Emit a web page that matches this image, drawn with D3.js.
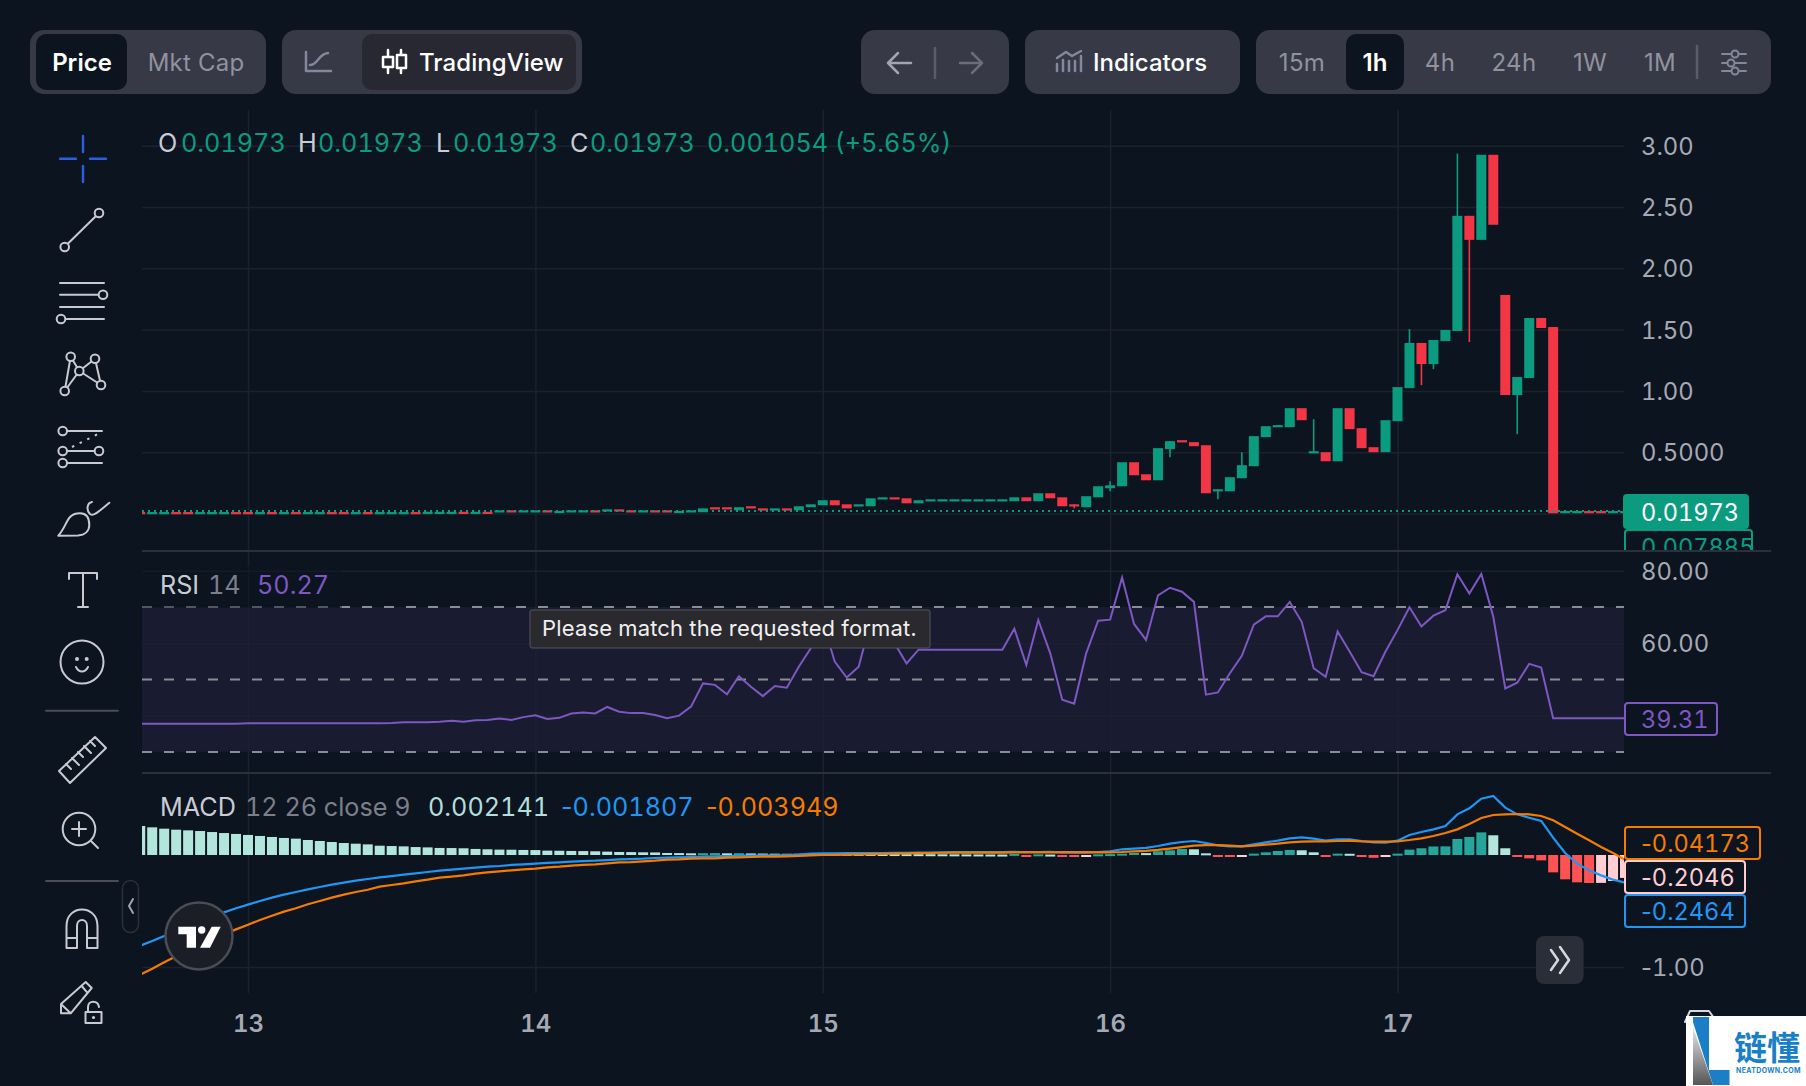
<!DOCTYPE html>
<html>
<head>
<meta charset="utf-8">
<script src="https://cdn.jsdelivr.net/npm/d3@7/dist/d3.min.js"></script>
<style>
  html, body { margin: 0; padding: 0; background: #0c1420; overflow: hidden; }
  text { font-family: Inter, "Noto Sans", sans-serif; font-variant-numeric: tabular-nums; }
  .plain { font-variant-numeric: normal; }
</style>
</head>
<body>
<div id="chart"></div>
<script>
// hours are counted from day 13 00:00, first candle is index 0 = hour -9
const firstHour = -9;
const dayTicks = [0, 24, 48, 72, 96];
const dayLabels = ["13", "14", "15", "16", "17"];

const opens = [
  .012,0,0,.012,.012,0,0,0,.012,
  .012,0,.012,0,.012,0,0,.012,.012,0,
  .012,0,0,0,.012,.002,.002,.002,.014,.002,
  .014,.010,.026,.010,.010,.026,.006,.010,.010,.026,
  .018,.034,.026,.010,.026,.026,.004,.010,.010,.051,
  .051,.026,.059,.042,.026,.042,.026,.051,.067,.108,
  .075,.059,.059,.116,.132,.124,.083,.100,.100,.100,
  .100,.100,.100,.100,.100,.132,.100,.165,.132,.075,
  .051,.132,.206,.222,.418,.320,.271,.525,.598,.582,
  .557,.184,.181,.288,.386,.623,.707,.704,.859,.495,
  .500,.426,.859,.696,.541,.500,.753,1.023,1.391,1.219,
  1.407,1.489,2.428,2.232,2.926,1.783,.966,1.105,1.595,1.521,
  .014,.014,.020,.020,.014,.014
];
const closes = [
  0,.012,.012,0,0,.012,.012,.012,0,
  0,.012,0,.012,0,.012,.012,0,0,.012,
  0,.012,.012,.012,0,.014,.014,.014,.002,.014,
  .002,.026,.010,.026,.026,.010,.021,.026,.026,.010,
  .034,.018,.010,.026,.010,.010,.021,.026,.042,.034,
  .034,.051,.042,.026,.042,.026,.059,.075,.108,.067,
  .042,.075,.124,.132,.116,.083,.108,.116,.116,.116,
  .116,.116,.116,.116,.132,.100,.165,.124,.059,.059,
  .141,.222,.230,.418,.312,.271,.533,.590,.582,.549,
  .165,.198,.296,.394,.631,.712,.721,.859,.761,.508,
  .426,.859,.688,.533,.500,.761,1.031,1.391,1.219,1.415,
  1.497,2.428,2.232,2.926,2.355,.966,1.113,1.595,1.513,.002,
  .020,.020,.014,.014,.020,.0197
];
// only the candles with a wick that shows
const wickHours = [69, 72, 77, 81, 83, 89, 97, 98, 99, 101, 102, 106];
const wickHighs = [.075, .263, .590, .198, .500, .770, 1.505, 1.391, 1.415, 2.935, 2.428, 1.113];
const wickLows = [.042, .181, .459, .116, .288, .495, 1.023, 1.047, 1.178, 1.489, 1.399, .647];

const rsiValues = [
  37.8,37.8,37.8,37.8,37.8,37.8,37.8,37.8,
  37.8,37.9,37.9,37.9,37.9,37.9,37.9,37.9,37.9,37.9,
  37.9,37.9,37.9,38.0,38.2,38.2,38.2,38.3,38.6,38.3,38.7,
  38.8,39.2,38.8,39.6,40.1,39.1,39.4,40.6,40.9,40.6,
  42.4,41.1,40.7,40.7,40.2,39.3,40.0,42.5,48.9,48.5,
  45.9,50.9,48.0,45.4,48.2,47.7,53.5,58.6,66.0,54.9,
  50.5,53.5,66.0,68.0,60.0,54.4,58.2,58.2,58.2,58.2,
  58.2,58.2,58.2,58.2,64.0,54.0,66.4,57.2,44.4,43.3,
  57.2,66.2,66.5,78.1,65.3,60.9,73.2,75.3,74.2,71.4,
  45.8,46.4,51.7,56.5,65.1,67.4,67.4,71.4,65.9,53.1,
  50.7,63.2,57.7,52.0,50.9,57.7,63.6,69.9,64.6,67.6,
  69.1,79.0,73.7,79.1,67.3,47.5,49.1,54.3,53.3,39.31,
  39.31,39.31,39.31,39.31,39.31,39.31,39.31
];

const macdValues = [
  -.810,-.768,-.723,-.679,-.634,-.592,-.551,-.512,-.476,
  -.443,-.411,-.381,-.354,-.330,-.307,-.286,-.265,-.247,-.229,
  -.214,-.199,-.188,-.176,-.164,-.152,-.140,-.131,-.122,-.113,
  -.104,-.098,-.089,-.083,-.077,-.071,-.065,-.060,-.054,-.051,
  -.045,-.039,-.036,-.033,-.027,-.024,-.021,-.018,-.015,-.012,
  -.009,-.006,-.006,-.003,-.003,0,.003,.012,.014,.015,
  .016,.018,.018,.018,.020,.020,.022,.022,.024,.026,
  .026,.026,.026,.026,.028,.024,.027,.028,.022,.020,
  .021,.027,.033,.051,.057,.063,.080,.101,.116,.125,
  .107,.086,.077,.077,.095,.113,.128,.149,.158,.146,
  .128,.140,.140,.125,.113,.110,.128,.179,.205,.229,
  .259,.363,.417,.503,.527,.423,.363,.333,.304,.155,
  .018,-.077,-.137,-.182,-.220,-.246
];
const signalValues = [
  -1.068,-1.015,-.958,-.905,-.854,-.807,-.756,-.708,-.664,
  -.622,-.580,-.542,-.506,-.476,-.440,-.411,-.381,-.354,-.330,
  -.310,-.283,-.268,-.253,-.235,-.220,-.202,-.193,-.182,-.167,
  -.155,-.146,-.137,-.128,-.122,-.110,-.104,-.095,-.089,-.083,
  -.074,-.065,-.063,-.057,-.051,-.042,-.039,-.033,-.030,-.030,
  -.024,-.021,-.018,-.015,-.015,-.012,-.009,-.004,0,.002,
  .004,.006,.008,.010,.012,.014,.016,.018,.020,.022,
  .022,.022,.022,.022,.024,.025,.024,.024,.025,.026,
  .025,.024,.024,.027,.033,.036,.045,.057,.071,.083,
  .089,.089,.083,.077,.083,.092,.101,.113,.119,.122,
  .122,.125,.128,.122,.119,.119,.122,.134,.149,.170,
  .196,.229,.277,.330,.357,.363,.366,.363,.348,.310,
  .250,.190,.131,.071,.018,-.042
];
const histValues = [
  .259,.247,.235,.226,.220,.214,.205,.196,.188,
  .179,.170,.161,.152,.146,.134,.125,.116,.107,.101,
  .095,.083,.080,.077,.071,.068,.063,.062,.060,.054,
  .051,.048,.047,.045,.044,.039,.038,.036,.035,.033,
  .030,.027,.026,.024,.023,.018,.017,.015,.016,.017,
  .015,.016,.014,.013,.012,.011,.013,.012,.0115,.011,
  .0105,.010,.0095,.009,.0085,.008,.0075,.007,.0065,.006,
  .0055,.005,.0045,.004,.010,-.006,.006,.004,-.008,-.012,
  -.008,.006,.008,.012,.018,.017,.033,.042,.054,.051,
  .015,-.012,-.014,-.012,.012,.024,.036,.045,.042,.024,
  -.006,.012,.011,-.014,-.025,-.012,.012,.048,.060,.076,
  .077,.143,.161,.202,.176,.060,-.012,-.030,-.048,-.155,
  -.217,-.244,-.250,-.249,-.232,-.2046
];

const priceTicks = [3, 2.5, 2, 1.5, 1, 0.5];
const priceLabels = ["3.00", "2.50", "2.00", "1.50", "1.00", "0.5000"];
const rsiTicks = [80, 60];
const rsiGrid = [80, 60, 40];
const rsiBands = [70, 50, 30];
const macdTicks = [-1];
const lastPrice = 0.01973;

const width = 1806, height = 1086;
const left = 142, right = 1624;
const bg = "#0c1420", up = "#0b9c80", down = "#f23645", gridCol = "#1b222e";
const axisCol = "#a6a9b3", purple = "#7e57c2", blue = "#2196f3", orange = "#f57c00";

const svg = d3.select("#chart").append("svg").attr("width", width).attr("height", height)
  .style("display", "block");
svg.append("rect").attr("width", width).attr("height", height).attr("fill", bg);

const x = d3.scaleLinear().domain([0, 96]).range([248, 1397.5]);
const yPrice = d3.scaleLinear().domain([0, 3]).range([513.5, 145.7]);
const yRsi = d3.scaleLinear().domain([30, 80]).range([751.9, 570.7]);
const yMacd = d3.scaleLinear().domain([-1, 0]).range([967, 855]);

const hourOf = i => firstHour + i;

// tabular minus sign is too wide, so it goes in its own tspan
function setLabel(sel, str) {
  sel.text(null);
  if (str[0] === "-") {
    sel.append("tspan").attr("class", "plain").text("-");
    sel.append("tspan").text(str.slice(1));
  } else {
    sel.text(str);
  }
}

const defs = svg.append("defs");
function clip(id, y0, y1) {
  defs.append("clipPath").attr("id", id).append("rect")
    .attr("x", left).attr("y", y0).attr("width", right - left).attr("height", y1 - y0);
}
clip("clipPrice", 110, 550);
clip("clipRsi", 552, 772);
clip("clipMacd", 774, 993);
defs.append("clipPath").attr("id", "clipLabel").append("rect")
  .attr("x", right - 2).attr("y", 110).attr("width", 180).attr("height", 440);

// rsi band goes under the grid
svg.append("rect").attr("x", left).attr("width", right - left)
  .attr("y", yRsi(70)).attr("height", yRsi(30) - yRsi(70)).attr("fill", "#191b30");

// vertical grid
const vGrid = svg.append("g").attr("transform", "translate(0,110)")
  .call(d3.axisBottom(x).tickValues(dayTicks).tickSize(883).tickFormat(""));
vGrid.select(".domain").remove();
vGrid.selectAll("line").attr("stroke", gridCol).attr("stroke-width", 1.5);

// horizontal grid
function hGrid(scale, ticks) {
  const g = svg.append("g").attr("transform", `translate(${left},0)`)
    .call(d3.axisRight(scale).tickValues(ticks).tickSize(right - left).tickFormat(""));
  g.select(".domain").remove();
  g.selectAll("line").attr("stroke", gridCol).attr("stroke-width", 1.5);
}
hGrid(yPrice, priceTicks.concat([0]));
hGrid(yRsi, rsiGrid);
hGrid(yMacd, macdTicks);

// pane dividers
[551, 773].forEach(y => {
  svg.append("line").attr("x1", left).attr("x2", 1771).attr("y1", y).attr("y2", y)
    .attr("stroke", "#2a303c").attr("stroke-width", 2);
});

// candles
const candleG = svg.append("g").attr("clip-path", "url(#clipPrice)");
const isUp = i => closes[i] >= opens[i];
candleG.selectAll(".wick").data(wickHours).enter().append("line")
  .attr("x1", d => x(d)).attr("x2", d => x(d))
  .attr("y1", (d, i) => yPrice(wickHighs[i])).attr("y2", (d, i) => yPrice(wickLows[i]))
  .attr("stroke", d => isUp(d - firstHour) ? up : down).attr("stroke-width", 1.6);
candleG.selectAll(".body").data(opens).enter().append("rect")
  .attr("x", (d, i) => x(hourOf(i)) - 5)
  .attr("width", 10)
  .attr("y", (d, i) => yPrice(Math.max(d, closes[i])))
  .attr("height", (d, i) => Math.max(2.2, Math.abs(yPrice(d) - yPrice(closes[i]))))
  .attr("fill", (d, i) => isUp(i) ? up : down);
candleG.append("line").attr("x1", left).attr("x2", right)
  .attr("y1", yPrice(lastPrice)).attr("y2", yPrice(lastPrice))
  .attr("stroke", up).attr("stroke-width", 2).attr("stroke-dasharray", "2 4");

// rsi
rsiBands.forEach(v => {
  svg.append("line").attr("x1", left).attr("x2", right).attr("y1", yRsi(v)).attr("y2", yRsi(v))
    .attr("stroke", "#8b8d96").attr("stroke-width", 2).attr("stroke-dasharray", "10 12");
});
const rsiLine = d3.line().x((d, i) => x(hourOf(i))).y(d => yRsi(d));
svg.append("path").datum(rsiValues).attr("clip-path", "url(#clipRsi)")
  .attr("d", rsiLine).attr("fill", "none").attr("stroke", purple).attr("stroke-width", 2);

// macd
const macdG = svg.append("g").attr("clip-path", "url(#clipMacd)");
function histColor(i) {
  const v = histValues[i], p = i > 0 ? histValues[i - 1] : v + 1;
  if (v >= 0) return v > p ? "#26a69a" : "#b2e6dd";
  return v > p ? "#ffcdd2" : "#ff5252";
}
macdG.selectAll(".hist").data(histValues).enter().append("rect")
  .attr("x", (d, i) => x(hourOf(i)) - 5)
  .attr("width", 10)
  .attr("y", d => d >= 0 ? yMacd(d) : yMacd(0))
  .attr("height", d => Math.max(2, Math.abs(yMacd(d) - yMacd(0))))
  .attr("fill", (d, i) => histColor(i));
const macdLine = d3.line().x((d, i) => x(hourOf(i))).y(d => yMacd(d));
macdG.append("path").datum(macdValues).attr("d", macdLine)
  .attr("fill", "none").attr("stroke", blue).attr("stroke-width", 2.2);
macdG.append("path").datum(signalValues).attr("d", macdLine)
  .attr("fill", "none").attr("stroke", orange).attr("stroke-width", 2.2);

// axes
function rightAxis(scale, ticks, fmt) {
  const g = svg.append("g").attr("transform", `translate(${right},1)`)
    .call(d3.axisRight(scale).tickValues(ticks).tickSize(0).tickPadding(17).tickFormat(fmt));
  g.select(".domain").remove();
  g.selectAll("text").attr("fill", axisCol).attr("font-size", 23.8)
    .each(function () { const s = d3.select(this); setLabel(s, s.text()); });
}
rightAxis(yPrice, priceTicks, (d, i) => priceLabels[i]);
rightAxis(yRsi, rsiTicks, d3.format(".2f"));
rightAxis(yMacd, macdTicks, d => d3.format(".2f")(d).replace("\u2212", "-"));

const xAxis = svg.append("g").attr("transform", "translate(0,1015)")
  .call(d3.axisBottom(x).tickValues(dayTicks).tickSize(0).tickPadding(0).tickFormat((d, i) => dayLabels[i]));
xAxis.select(".domain").remove();
xAxis.selectAll("text").attr("fill", axisCol).attr("font-size", 24).attr("font-weight", 600);

function txt(str, px, py, col, opts) {
  opts = opts || {};
  const t = svg.append("text").attr("x", px).attr("y", py).attr("fill", col)
    .attr("font-size", opts.size || 24).attr("font-weight", opts.weight || 400)
    .attr("letter-spacing", opts.ls === undefined ? 0 : opts.ls)
    .attr("text-anchor", opts.anchor || "start");
  if (opts.plain) t.attr("class", "plain");
  setLabel(t, str);
  return t;
}

// legends
const lightText = "#c9ccd4", greyText = "#7c7f8a", legendSize = { size: 25.2 };
[["O", 158, lightText], ["0.01973", 181, up], ["H", 298, lightText], ["0.01973", 318, up],
 ["L", 436, lightText], ["0.01973", 453, up], ["C", 570, lightText], ["0.01973", 590, up],
 ["0.001054 (+5.65%)", 707, up]].forEach(d => txt(d[0], d[1], 152, d[2], legendSize));

svg.append("rect").attr("x", left).attr("y", 566).attr("width", 200).attr("height", 42).attr("fill", bg).attr("opacity", 0.45);
txt("RSI", 160, 594, lightText, legendSize);
txt("14", 208, 594, greyText, legendSize);
txt("50.27", 257, 594, purple, legendSize);
txt("MACD", 160, 816, lightText, legendSize);
txt("12 26 close 9", 245, 816, greyText, legendSize);
txt("0.002141", 428, 816, "#b2dfdb", legendSize);
txt("-0.001807", 561, 816, blue, legendSize);
txt("-0.003949", 706, 816, orange, legendSize);

// price labels on the right
function valueBox(bx, by, bw, bh, col, textCol, label, filled, clipId) {
  const g = svg.append("g");
  if (clipId) g.attr("clip-path", `url(#${clipId})`);
  g.append("rect").attr("x", bx).attr("y", by).attr("width", bw).attr("height", bh).attr("rx", 3)
    .attr("fill", filled ? col : bg).attr("stroke", col).attr("stroke-width", 2);
  const t = g.append("text").attr("x", 1641).attr("y", by + bh / 2 + 9).attr("fill", textCol)
    .attr("font-size", 23.6);
  setLabel(t, label);
}
valueBox(1625, 530, 127, 34, up, up, "0.007885", false, "clipLabel");
valueBox(1624, 495, 124, 33, up, "#ffffff", "0.01973", true);
valueBox(1625, 703, 92, 32, purple, purple, "39.31", false);
valueBox(1625, 827, 135, 32, orange, orange, "-0.04173", false);
valueBox(1625, 861, 120, 32, "#ffcdd2", "#ffcdd2", "-0.2046", false);
valueBox(1625, 895, 120, 32, blue, blue, "-0.2464", false);

// tooltip
svg.append("rect").attr("x", 530).attr("y", 610).attr("width", 400).attr("height", 38).attr("rx", 2)
  .attr("fill", "#29292e").attr("stroke", "#55565c");
txt("Please match the requested format.", 542, 636, "#f0f0f2", { size: 22, ls: 0.16 });

// top bar
function pill(px, py, w, h, r, col) {
  svg.append("rect").attr("x", px).attr("y", py).attr("width", w).attr("height", h).attr("rx", r).attr("fill", col);
}
const barCol = "#373947", selCol = "#0c1420", barText = "#90929e";
pill(30, 30, 236, 64, 14, barCol);
pill(36, 34, 91, 56, 10, selCol);
txt("Price", 82, 70.5, "#ffffff", { weight: 600, anchor: "middle", plain: true });
txt("Mkt Cap", 196, 70.5, barText, { anchor: "middle", ls: 0.2, plain: true });
pill(282, 30, 300, 64, 14, barCol);
pill(362, 34, 214, 56, 10, "#282833");
txt("TradingView", 419, 70.5, "#ffffff", { weight: 500, ls: 0.05, plain: true });
pill(861, 30, 148, 64, 14, barCol);
pill(1025, 30, 215, 64, 14, barCol);
txt("Indicators", 1093, 70.5, "#ffffff", { weight: 500, plain: true });
pill(1256, 30, 515, 64, 14, barCol);
pill(1346, 34, 58, 56, 10, selCol);
[["15m", 1302], ["4h", 1440], ["24h", 1514], ["1W", 1590], ["1M", 1660]].forEach(d =>
  txt(d[0], d[1], 70.5, barText, { anchor: "middle", ls: 0.3, plain: true }));
txt("1h", 1375, 70.5, "#ffffff", { weight: 600, anchor: "middle", plain: true });

function icon(d, col, w, fill) {
  svg.append("path").attr("d", d).attr("fill", fill || "none").attr("stroke", col)
    .attr("stroke-width", w || 2).attr("stroke-linecap", "round").attr("stroke-linejoin", "round");
}
function dot(cx, cy, r, col, w) {
  svg.append("circle").attr("cx", cx).attr("cy", cy).attr("r", r).attr("fill", bg).attr("stroke", col).attr("stroke-width", w || 2);
}
icon("M306 52V71H331M310 65C318 65 318 54 328 53", "#85879a", 2.5);
icon("M388 50V57M388 67V73M383 57H393V67H383ZM401 50V55M401 68V73M397 55H406V68H397Z", "#ffffff", 2.5);
icon("M899 63H888M888 63L898 53M888 63L898 73M888 63H911", "#a2a4ae", 2.5);
icon("M935 48V78", "#5a5c69", 2.5);
icon("M960 63H982M982 63L972 53M982 63L972 73", "#6b6d79", 2.5);
icon("M1057 71V64M1063 71V60M1069 71V61M1075 71V61M1081 71V56M1057 58L1066 52L1072 56L1081 51", "#85879a", 2.5);
icon("M1697 46V78", "#5a5c69", 2.5);
icon("M1722 54H1731M1739 54H1746M1722 63H1727M1735 63H1746M1722 71H1731M1739 71H1746", "#85879a", 2);
[[1735, 54], [1731, 63], [1735, 71]].forEach(d => svg.append("circle").attr("cx", d[0]).attr("cy", d[1]).attr("r", 3.5).attr("fill", "none").attr("stroke", "#85879a").attr("stroke-width", 2));

// left tools
const ic = "#c8cad2";
icon("M60 158.7H76M90 158.7H106M83 136V152M83 166V182", "#2b5fe0", 2.4);
icon("M67.5 244L96 216", ic);
dot(99, 213, 4.3, ic); dot(64.7, 247, 4.3, ic);
icon("M60 283H104M60 294.7H99M60 307H104M65 319H104", ic);
dot(103, 294.7, 4.3, ic); dot(61, 319, 4.3, ic);
icon("M64.7 391L70.7 356.7L79.3 371L95 358.7L101 385L79.3 371L64.7 391", ic);
dot(70.7, 356.7, 4.3, ic); dot(95, 358.7, 4.3, ic); dot(79.3, 371, 4.3, ic); dot(101, 385, 4.3, ic); dot(64.7, 391, 4.3, ic);
icon("M67 431H102M67 451H95M67 463H102", ic);
dot(62.7, 431, 4.3, ic); dot(62.7, 451, 4.3, ic); dot(99, 451, 4.3, ic); dot(62.7, 463, 4.3, ic);
svg.append("path").attr("d", "M72 447L98 434").attr("stroke", ic).attr("stroke-width", 2).attr("stroke-dasharray", "2.5 6").attr("fill", "none");
icon("M58.3 535.7C68 525 66 513.3 80 513.3C88 513.3 89.3 520 89.3 525C89.3 531 85 535 78 535.5ZM92 502C87 503 86 510 90 514C93 516 95 515 109.3 502.7", ic);
icon("M69 579V573H97V579M83 573V607M78 607H88", ic);
svg.append("circle").attr("cx", 82).attr("cy", 662).attr("r", 21.5).attr("fill", "none").attr("stroke", ic).attr("stroke-width", 2);
svg.append("circle").attr("cx", 77).attr("cy", 659).attr("r", 2).attr("fill", ic);
svg.append("circle").attr("cx", 86.7).attr("cy", 659).attr("r", 2).attr("fill", ic);
icon("M76 667C79 673 85 673 88 667", ic);
icon("M46 710.7H118M46 881H118", "#4a4c58", 2);
icon("M59 771L95 737L106 748L70 783ZM66 764L71 769M72 758L79 765M78 752L83 757M84 746L91 753M90 741L95 746", ic);
svg.append("circle").attr("cx", 79).attr("cy", 829).attr("r", 16.3).attr("fill", "none").attr("stroke", ic).attr("stroke-width", 2);
icon("M72 829H86M79 822V836M91 841L98 848", ic);
icon("M66.5 948V926C66.5 904 97.5 904 97.5 926V948H87V926C87 918 77 918 77 926V948ZM66.5 938H77M87 938H97.5", ic);
icon("M61 1013.3V1004L85.7 982L91.7 988L70.7 1013.3ZM61 1004L70.7 1013.3M81.7 986L87.3 992.7", ic);
icon("M85.5 1012H101.5V1023H85.5ZM88 1012V1007C88 1000 98 1000 99 1007", ic);
svg.append("circle").attr("cx", 93.5).attr("cy", 1017.5).attr("r", 1.6).attr("fill", ic);

// collapse handle
svg.append("rect").attr("x", 122.5).attr("y", 880.5).attr("width", 16).attr("height", 52).attr("rx", 8)
  .attr("fill", bg).attr("stroke", "#2b303b").attr("stroke-width", 1.5);
icon("M133 899L129 906L133 913", "#a2a4ae", 2);

// tradingview badge
svg.append("circle").attr("cx", 199).attr("cy", 936).attr("r", 33.5).attr("fill", "#1b1e26").attr("stroke", "#4a4c58").attr("stroke-width", 2.5);
svg.append("path").attr("fill", "#ffffff").attr("d", "M178.3 926.7H196V947.7H186.7V934.3H178.3ZM211.7 926.7H220.7L210 947.7H200Z");
svg.append("circle").attr("cx", 201.7).attr("cy", 930).attr("r", 3.7).attr("fill", "#ffffff");

// scroll button
pill(1536, 936, 47.6, 48, 8, "#2a2e39");
icon("M1551 950L1558 960L1551 970M1560 947L1569 960L1560 973", "#d6d8de", 2.5);

// watermark
icon("M1685 1022L1690 1011H1709L1714 1018", "#d6d8de", 2);
svg.append("rect").attr("x", 1686).attr("y", 1016).attr("width", 120).attr("height", 70).attr("fill", "#ffffff");
const grad = defs.append("linearGradient").attr("id", "logoGrad").attr("x1", 0).attr("x2", 0).attr("y1", 0).attr("y2", 1);
grad.append("stop").attr("offset", "0%").attr("stop-color", "#e8e8e8");
grad.append("stop").attr("offset", "100%").attr("stop-color", "#555555");
svg.append("path").attr("d", "M1693 1027L1713 1085H1693Z").attr("fill", "url(#logoGrad)");
svg.append("path").attr("d", "M1693 1017H1709V1070H1729.5V1085H1713L1693 1022Z").attr("fill", "#1a7fc6");
svg.append("text").attr("x", 1734).attr("y", 1060).attr("font-size", 33).attr("font-weight", 700)
  .attr("fill", "#1a7fc6").style("font-family", '"Noto Sans CJK SC"').text("链懂");
txt("NEATDOWN.COM", 1736, 1073, "#1a7fc6", { size: 7, weight: 700, ls: 0.35 });
</script>
</body>
</html>
